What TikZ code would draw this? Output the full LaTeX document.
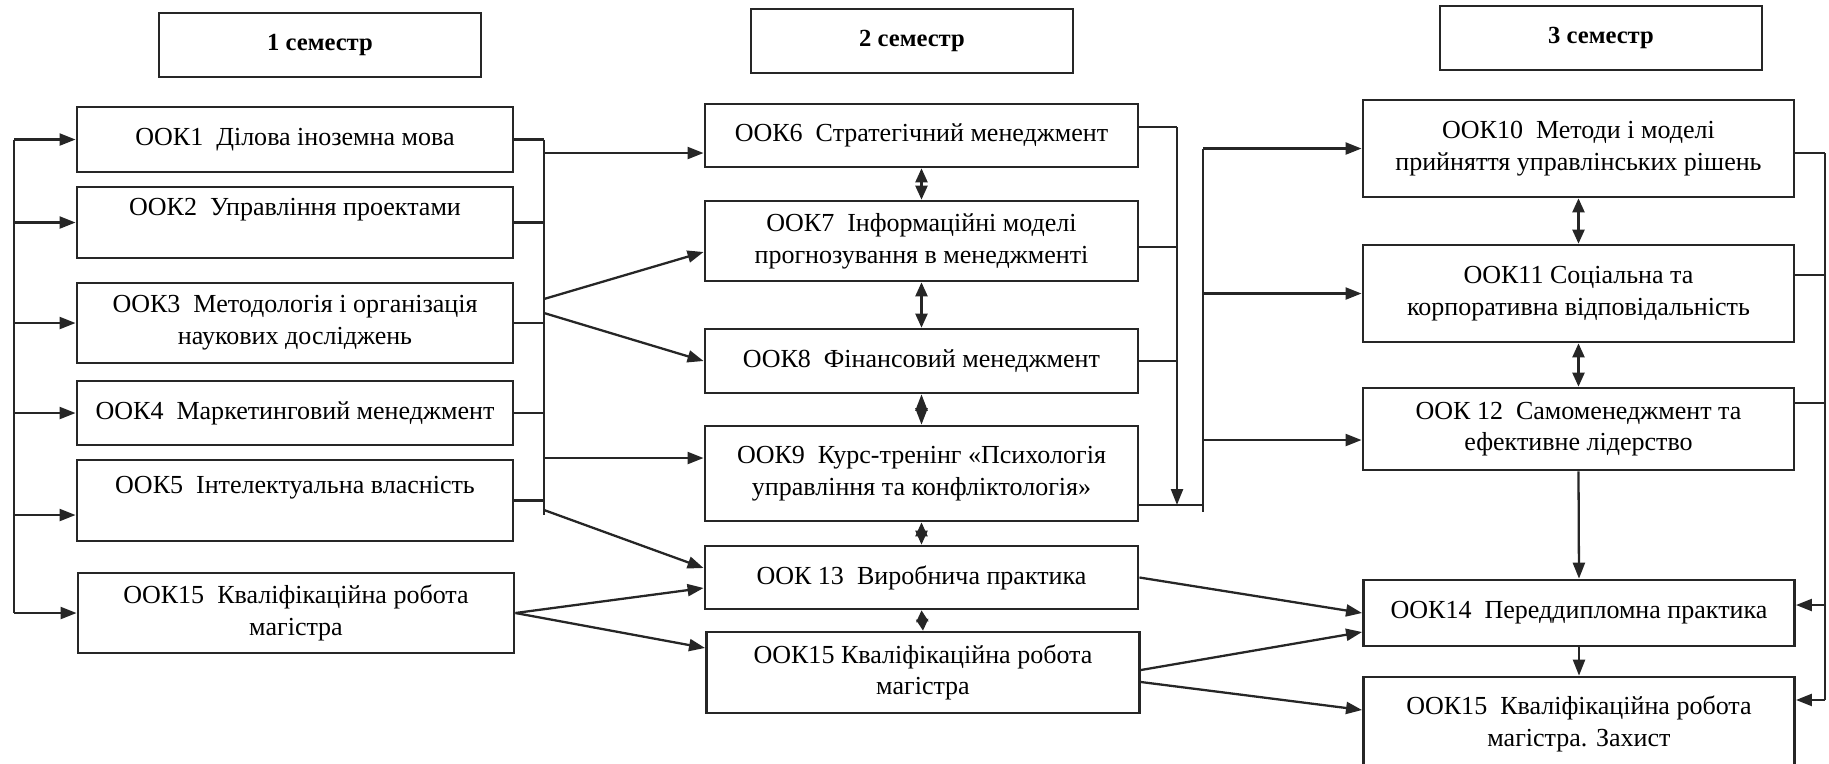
\documentclass[tikz,border=0pt]{standalone}
\usepackage{fontspec}
\setmainfont{Liberation Serif}
\usetikzlibrary{arrows.meta}

\tikzset{
  ookbox/.style={draw=black!85, line width=0.75pt, fill=white, inner sep=1pt,
    align=center, font=\fontsize{7.4}{9}\selectfont},
  leftbox/.style={ookbox, minimum width=4.36cm},
  midbox/.style={ookbox, minimum width=4.33cm},
  rightbox/.style={ookbox, minimum width=4.31cm},
  sembox/.style={draw=black!85, line width=0.75pt, minimum height=0.64cm,
    minimum width=3.22cm, font=\fontsize{7}{8}\selectfont\bfseries},
  conn/.style={draw=black!85, line width=0.65pt},
  arr/.style={conn, -{Triangle[length=1.6mm,width=1.2mm]}},
  dbl/.style={conn, {Triangle[length=1.4mm,width=1.2mm]}-{Triangle[length=1.4mm,width=1.2mm]}},
}

\begin{document}
\begin{tikzpicture}[x=0.01cm, y=-0.01cm]
  \useasboundingbox (0,0) rectangle (1829,763);
  \clip (0,0) rectangle (1829,763);

  % semesters
  \node[sembox] (sem1) at (320,45) {1 семестр};
  \node[sembox] (sem2) at (912,41) {2 семестр};
  \node[sembox] (sem3) at (1601,38) {3 семестр};

  % 1 semester
  \node[leftbox, minimum height=0.65cm] (ook1) at (295,139.5) {ООК1~ Ділова іноземна мова};
  \node[leftbox, minimum height=0.71cm] (ook2) at (295,222.5) {ООК2~ Управління проектами\\ \mbox{}};
  \node[leftbox, minimum height=0.80cm] (ook3) at (295,323) {ООК3~ Методологія і організація\\наукових досліджень};
  \node[leftbox, minimum height=0.64cm] (ook4) at (295,413) {ООК4~ Маркетинговий менеджмент};
  \node[leftbox, minimum height=0.81cm] (ook5) at (295,500.5) {ООК5~ Інтелектуальна власність\\ \mbox{}};
  \node[leftbox, minimum height=0.80cm] (ook15a) at (296,613) {ООК15~ Кваліфікаційна робота\\магістра};

  % 2 semester
  \node[midbox, minimum height=0.63cm] (ook6) at (921.5,135.5) {ООК6~ Стратегічний менеджмент};
  \node[midbox, minimum height=0.80cm] (ook7) at (921.5,241) {ООК7~ Інформаційні моделі\\прогнозування в менеджменті};
  \node[midbox, minimum height=0.64cm] (ook8) at (921.5,361) {ООК8~ Фінансовий менеджмент};
  \node[midbox, minimum height=0.95cm] (ook9) at (921.5,473.5) {ООК9~ Курс-тренінг «Психологія\\управління та конфліктологія»};
  \node[midbox, minimum height=0.63cm] (ook13) at (921.5,577.5) {ООК 13~ Виробнича практика};
  \node[midbox, minimum height=0.81cm] (ook15b) at (923,672.5) {ООК15 Кваліфікаційна робота\\магістра};

  % 3 semester
  \node[rightbox, minimum height=0.97cm] (ook10) at (1578.5,148.5) {ООК10~ Методи і моделі\\прийняття управлінських рішень};
  \node[rightbox, minimum height=0.97cm] (ook11) at (1578.5,293.5) {ООК11 Соціальна та\\корпоративна відповідальність};
  \node[rightbox, minimum height=0.82cm] (ook12) at (1578.5,429) {ООК 12~ Самоменеджмент та\\ефективне лідерство};
  \node[rightbox, minimum height=0.66cm] (ook14) at (1579,613) {ООК14~ Переддипломна практика};
  \node[rightbox, minimum height=0.94cm] (ook15c) at (1579,724) {ООК15~ Кваліфікаційна робота\\магістра. Захист};

  % feed line on the left
  \coordinate (feed) at (14,0);
  \coordinate (in5) at ([yshift=-1.45mm]ook5.west);
  \draw[conn] (ook1.west -| feed) -- (ook15a.west -| feed);
  \foreach \b in {ook1,ook2,ook3,ook4,ook15a}
    \draw[arr] (\b.west -| feed) -- (\b.west);
  \draw[arr] (in5 -| feed) -- (in5);

  % bus after 1 semester
  \coordinate (bus1) at (544,0);
  \coordinate (bus1end) at (544,515);
  \draw[conn] (ook1.east -| bus1) -- (bus1end);
  \foreach \b in {ook1,ook2,ook3,ook4,ook5}
    \draw[conn] (\b.east) -- (\b.east -| bus1);
  \coordinate (b1a) at (544,299);
  \coordinate (b1b) at (544,313);
  \coordinate (b1c) at (544,458);
  \coordinate (b1d) at (544,510);
  \coordinate (in6) at ([yshift=-1.75mm]ook6.west);
  \coordinate (in7) at ([yshift=-1.1mm]ook7.west);
  \coordinate (in13a) at ([yshift=0.95mm]ook13.west);
  \coordinate (in13b) at ([yshift=-1.05mm]ook13.west);
  \coordinate (in15b) at ([yshift=2.45mm]ook15b.west);
  \draw[arr] (in6 -| bus1) -- (in6);
  \draw[arr] (b1a) -- (in7);
  \draw[arr] (b1b) -- (ook8.west);
  \draw[arr] (b1c) -- (b1c -| ook9.west);
  \draw[arr] (b1d) -- (in13a);
  \draw[arr] (ook15a.east) -- (in13b);
  \draw[arr] (ook15a.east) -- (in15b);

  % inside 2 semester
  \draw[dbl] (ook6.south) -- (ook7.north);
  \draw[dbl] (ook7.south) -- (ook8.north);
  \draw[conn, {Triangle[length=1.65mm,width=1.2mm]}-{Triangle[length=1.65mm,width=1.2mm]}] (ook8.south) -- (ook9.north);
  \draw[dbl] (ook9.south) -- (ook13.north);
  \draw[conn, {Triangle[length=1.15mm,width=1.2mm]}-{Triangle[length=1.15mm,width=1.2mm]}] (ook13.south) -- (ook15b.north);

  % buses after 2 semester
  \coordinate (bus2) at (1177,0);
  \coordinate (bus3) at (1203,0);
  \coordinate (bus3end) at (1203,512);
  \coordinate (out6) at ([yshift=0.85mm]ook6.east);
  \coordinate (out7) at ([yshift=-0.6mm]ook7.east);
  \coordinate (out9) at ([yshift=-3.15mm]ook9.east);
  \foreach \p in {out6,out7,ook8.east}
    \draw[conn] (\p) -- (\p -| bus2);
  \draw[arr] (out6 -| bus2) -- (out9 -| bus2);
  \draw[conn] (out9) -- (out9 -| bus3);
  \draw[conn] (ook10.west -| bus3) -- (bus3end);
  \coordinate (in12) at ([yshift=-1.1mm]ook12.west);
  \draw[arr] (ook10.west -| bus3) -- (ook10.west);
  \draw[arr] (ook11.west -| bus3) -- (ook11.west);
  \draw[arr] (in12 -| bus3) -- (in12);

  % into 3 semester from below
  \coordinate (out15b1) at ([yshift=0.25mm]ook15b.east);
  \coordinate (out15b2) at ([yshift=-0.95mm]ook15b.east);
  \coordinate (in14b) at ([yshift=-1.9mm]ook14.west);
  \coordinate (in15l) at ([yshift=1.4mm]ook15c.west);
  \draw[arr] (ook13.east) -- (ook14.west);
  \draw[arr] (out15b1) -- (in14b);
  \draw[arr] (out15b2) -- (in15l);

  % inside 3 semester
  \draw[dbl] (ook10.south) -- (ook11.north);
  \draw[dbl] (ook11.south) -- (ook12.north);
  \draw[arr] (ook12.south) -- (ook14.north);
  \draw[arr] (ook14.south) -- (ook15c.north);

  % bus on the right
  \coordinate (bus4) at (1825,0);
  \coordinate (out10) at ([yshift=-0.45mm]ook10.east);
  \coordinate (out11) at ([yshift=1.85mm]ook11.east);
  \coordinate (out12) at ([yshift=2.6mm]ook12.east);
  \coordinate (in14r) at ([yshift=0.8mm]ook14.east);
  \coordinate (in15r) at ([yshift=2.4mm]ook15c.east);
  \draw[conn] (out10 -| bus4) -- (in15r -| bus4);
  \foreach \p in {out10,out11,out12}
    \draw[conn] (\p) -- (\p -| bus4);
  \draw[arr] (in14r -| bus4) -- (in14r);
  \draw[arr] (in15r -| bus4) -- (in15r);
\end{tikzpicture}
\end{document}
